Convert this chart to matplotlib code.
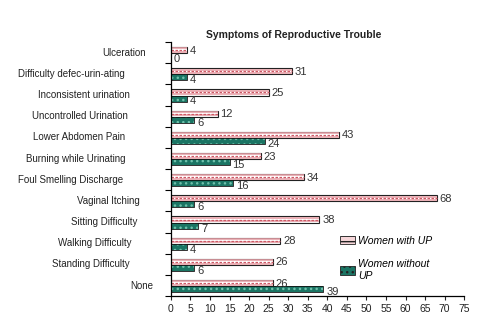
import numpy as np
import matplotlib.pyplot as plt
from matplotlib.transforms import blended_transform_factory

plt.rcParams['font.family'] = ['Liberation Sans', 'DejaVu Sans']

# Symptom categories, top to bottom
symptoms = ['Ulceration', 'Difficulty defec-urin-ating', 'Inconsistent urination',
            'Uncontrolled Urination', 'Lower Abdomen Pain', 'Burning while Urinating',
            'Foul Smelling Discharge', 'Vaginal Itching', 'Sitting Difficulty',
            'Walking Difficulty', 'Standing Difficulty', 'None']
with_up = [4, 31, 25, 12, 43, 23, 34, 68, 38, 28, 26, 26]
without_up = [0, 4, 4, 6, 24, 15, 16, 6, 7, 4, 6, 39]
xticks = list(range(0, 80, 5))

# right edge of each category label in figure pixels (labels are not aligned)
label_right = [146, 125, 130, 128, 125, 126, 123, 140, 137, 131, 130, 153]

pink = '#e9a3aa'
pink_dark = '#cc5a66'
teal = '#1b7564'

fig = plt.figure(figsize=(4.8, 3.24), dpi=100)
ax = fig.add_axes([0.356, 0.086, 0.611, 0.784])

y = np.arange(len(symptoms))
h = 0.285
y_up = y - 0.12
y_wo = y + 0.165

# women with UP: white bar with pink stripes and a dashed centre line
ax.barh(y_up, with_up, height=h, color='white', linewidth=0)
ax.hlines(y_up - 0.085, 0, with_up, colors=pink, linewidth=1.2)
ax.hlines(y_up + 0.085, 0, with_up, colors=pink, linewidth=1.2)
ax.hlines(y_up, 0, with_up, colors=pink_dark, linewidth=0.9, linestyles=(0, (2, 1.2)))
ax.barh(y_up, with_up, height=h, fill=False, edgecolor='#222222', linewidth=0.8)

# women without UP: dark teal with light dots
ax.barh(y_wo, without_up, height=h, color=teal, edgecolor='#6fc0ab', hatch='...', linewidth=0)
ax.barh(y_wo, without_up, height=h, fill=False, edgecolor='#111111', linewidth=0.6)

for yy, v in zip(y_up, with_up):
    ax.text(v + 0.7, yy + 0.03, str(v), va='center', ha='left', fontsize=8, color='#333333')
for yy, v in zip(y_wo, without_up):
    ax.text(v + 0.7, yy + 0.14, str(v), va='center', ha='left', fontsize=8, color='#333333')

ax.set_xlim(0, 75)
ax.set_ylim(len(symptoms) - 0.5, -0.5)
ax.set_xticks(xticks)
ax.tick_params(axis='x', labelsize=7.5, length=3, direction='out', pad=3, colors='#222222')
ax.set_yticks(np.arange(-0.5, len(symptoms), 1))
ax.set_yticklabels([])
ax.tick_params(axis='y', length=4, direction='out')

trans = blended_transform_factory(fig.dpi_scale_trans, ax.transData)
for yy, name, xr in zip(y, symptoms, label_right):
    ax.text(xr / 100, yy, name, transform=trans, ha='right', va='center',
            fontsize=7, color='#222222', clip_on=False)

for s in ['top', 'right']:
    ax.spines[s].set_visible(False)
for s in ['left', 'bottom']:
    ax.spines[s].set_linewidth(0.9)

fig.text(294 / 480, 1 - 38 / 324, 'Symptoms of Reproductive Trouble', ha='center',
         va='baseline', fontsize=7.5, fontweight='bold', color='#222222')

# legend
leg_up = plt.Rectangle((0, 0), 1, 1, facecolor='#f6d6d9', edgecolor='#222222', hatch='---', linewidth=0.6)
leg_wo = plt.Rectangle((0, 0), 1, 1, facecolor=teal, edgecolor='#222222', hatch='...', linewidth=0.6)
leg = ax.legend([leg_up, leg_wo], ['Women with UP', 'Women without\nUP'],
                loc='upper left', bbox_to_anchor=(0.545, 0.275), frameon=False,
                handlelength=1.4, handleheight=0.9, labelspacing=1.3,
                handletextpad=0.3, prop={'style': 'italic', 'size': 7.5})

fig.savefig('out.png', dpi=100)
